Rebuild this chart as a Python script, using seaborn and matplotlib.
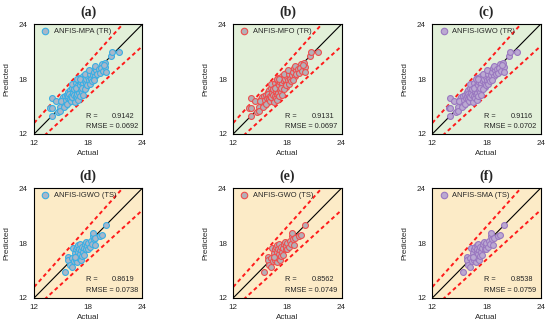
import numpy as np
import pandas as pd
import matplotlib
matplotlib.use('Agg')
import matplotlib.pyplot as plt
import seaborn as sns

sns.set_style('white')
plt.rcParams['font.family'] = ['Liberation Sans', 'DejaVu Sans']

# valores (treino)
actual_tr = [13.8, 14.0, 13.95, 14.0, 14.4, 14.6, 14.9, 14.9,
             15.1, 15.2, 15.3, 15.0, 15.4, 15.5, 15.3, 15.5,
             15.6, 15.7, 15.8, 15.9, 15.6, 15.8, 16.0, 16.0, 15.9,
             16.1, 16.2, 16.3, 16.1, 16.4, 16.3, 16.5, 16.2, 16.4, 16.5, 16.2, 16.4,
             16.6, 16.7, 16.8, 16.6, 16.9, 16.7, 16.8, 16.9, 17.0, 16.6, 17.0, 16.8, 16.9,
             17.1, 17.2, 17.3, 17.1, 17.4, 17.2, 17.3, 17.5, 17.4, 17.5, 17.1, 17.3, 17.4,
             17.6, 17.7, 17.8, 17.6, 17.9, 17.8, 17.7, 18.0, 17.9, 17.6,
             18.1, 18.2, 18.3, 18.4, 18.2, 18.5, 18.1, 18.4,
             18.6, 18.7, 18.8, 18.9, 18.6, 19.0, 18.8,
             19.2, 19.3, 19.5, 19.4, 19.6, 19.8, 19.9, 19.95, 19.7,
             20.5, 20.6, 21.4]
pred_tr = [14.8, 14.8, 14.0, 15.9, 15.6, 14.4, 14.9, 14.5,
           15.8, 16.0, 15.4, 15.6, 16.1, 15.2, 15.0, 15.7,
           16.3, 15.9, 16.6, 15.5, 15.3, 16.1, 16.8, 15.8, 16.4,
           16.2, 17.0, 16.5, 15.6, 17.3, 15.9, 16.8, 16.0, 16.3, 15.5, 17.5, 16.9,
           17.6, 16.6, 17.2, 16.1, 17.9, 15.9, 16.4, 17.0, 18.1, 17.0, 16.5, 18.0, 15.7,
           17.4, 16.8, 17.9, 16.2, 18.3, 17.7, 16.6, 17.2, 17.6, 18.1, 18.0, 17.0, 16.3,
           17.8, 18.4, 17.1, 16.9, 18.7, 17.6, 18.0, 18.2, 17.4, 18.5,
           17.9, 18.6, 18.0, 18.9, 17.5, 18.4, 19.0, 17.8,
           18.8, 19.2, 18.3, 19.0, 17.9, 18.6, 19.4,
           19.1, 18.7, 19.6, 19.2, 18.9, 19.8, 19.3, 18.8, 19.5,
           20.5, 21.0, 21.0]

# valores (teste)
actual_ts = [15.4, 15.8, 15.8, 16.0, 16.2, 16.3, 16.2, 16.4, 16.5, 16.6, 16.6,
             16.7, 16.7, 16.8, 16.9, 16.9, 17.0, 17.0, 17.1, 17.1, 17.2, 17.2,
             17.3, 17.3, 17.4, 17.5, 17.5, 17.6, 17.7, 17.8, 17.9, 18.0, 18.0,
             18.2, 18.3, 18.4, 18.5, 18.55, 18.6, 18.7, 18.8, 19.3, 19.5, 19.95, 16.5]
pred_ts = [14.8, 16.5, 16.2, 15.6, 15.4, 17.5, 16.4, 16.0, 16.9, 17.3, 16.2,
           17.6, 16.6, 15.9, 17.8, 17.0, 16.4, 17.4, 17.9, 16.8, 16.1, 17.2,
           17.6, 16.6, 17.0, 17.5, 16.7, 17.9, 18.1, 17.4, 17.7, 18.0, 17.3,
           17.6, 18.2, 17.9, 18.8, 19.1, 18.4, 17.8, 18.5, 18.8, 18.9, 20.0, 16.5]

paineis = ['(a)', '(b)', '(c)', '(d)', '(e)', '(f)']
modelos = ['ANFIS-MPA (TR)', 'ANFIS-MFO (TR)', 'ANFIS-IGWO (TR)',
           'ANFIS-IGWO (TS)', 'ANFIS-GWO (TS)', 'ANFIS-SMA (TS)']
valores_r = ['0.9142', '0.9131', '0.9116', '0.8619', '0.8562', '0.8538']
valores_rmse = ['0.0692', '0.0697', '0.0702', '0.0738', '0.0749', '0.0759']

cores_borda = ['#3BAEE3', '#EE4E4E', '#9A78C0']
cores_face = ['#A9B7C9', '#B3B1B8', '#BBA9D2']
fundos = ['#E2F0D9', '#FCEBC7']

fig = plt.figure(figsize=(5.5, 3.26), dpi=100)
lefts = [0.062, 0.424, 0.786]
bottoms = [0.589, 0.086]

for i in range(6):
    row, col = i // 3, i % 3
    ax = fig.add_axes([lefts[col], bottoms[row], 0.197, 0.337])
    ax.set_facecolor(fundos[row])
    if row == 0:
        df = pd.DataFrame({'Actual': actual_tr, 'Predicted': pred_tr})
    else:
        df = pd.DataFrame({'Actual': actual_ts, 'Predicted': pred_ts})

    # linhas de referência (1:1 e ±10%)
    xs = np.array([12, 24])
    ax.plot(xs, xs, color='black', lw=0.8, zorder=1)
    ax.plot(xs, xs * 1.1, color='#FF1A1A', lw=1.4, ls=(0, (2, 1.6)), zorder=1)
    ax.plot(xs, xs * 0.9, color='#FF1A1A', lw=1.4, ls=(0, (2, 1.6)), zorder=1)

    sns.scatterplot(data=df, x='Actual', y='Predicted', ax=ax, s=18,
                    color=cores_face[col], edgecolor=cores_borda[col],
                    linewidth=0.8, label=modelos[i], zorder=3)

    ax.set_xlim(12, 24)
    ax.set_ylim(12, 24)
    ax.set_xticks([12, 18, 24])
    ax.set_yticks([12, 18, 24])
    ax.tick_params(labelsize=5.8, length=2, width=0.6, pad=2.5, direction='out')
    for s in ax.spines.values():
        s.set_color('black')
        s.set_linewidth(0.8)
    ax.set_xlabel('Actual', fontsize=5.8, labelpad=2)
    ax.set_ylabel('Predicted', fontsize=5.8, labelpad=6)
    ax.set_title(paineis[i], fontsize=10, fontweight='bold',
                 family='Liberation Serif', pad=6)

    ax.legend(loc='upper left', fontsize=5.4, frameon=False,
              handletextpad=0.1, borderaxespad=0.2, markerscale=1.1,
              borderpad=0.3)

    ax.text(0.48, 0.15, 'R =', transform=ax.transAxes, fontsize=5.3)
    ax.text(0.93, 0.15, valores_r[i], transform=ax.transAxes, fontsize=5.3, ha='right')
    ax.text(0.48, 0.05, 'RMSE = ' + valores_rmse[i], transform=ax.transAxes, fontsize=5.3)

plt.savefig('out.png', dpi=100)
